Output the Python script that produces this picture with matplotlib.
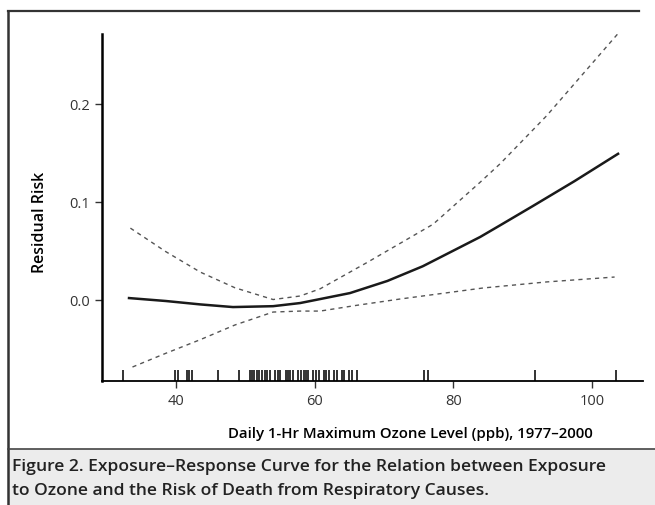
import matplotlib.pyplot as plt
from matplotlib.lines import Line2D
from matplotlib.patches import Rectangle

# ----- datos -------------------------------------------------------------------
OZONO = [33.2, 38.5, 43.5, 48.2, 54.0, 57.9, 60.8, 65.1, 70.5, 75.6, 83.9,
         86.8, 91.5, 97.5, 103.8]
RIESGO = [0.0015, -0.0015, -0.005, -0.0077, -0.0068, -0.0036, 0.0005, 0.0066,
          0.019, 0.034, 0.064, 0.076, 0.0956, 0.121, 0.149]

OZONO_SUP = [33.4, 38.5, 43.5, 48.5, 54.0, 57.9, 60.8, 67.6, 77.1, 83.9, 86.8,
             93.5, 103.8]
RIESGO_SUP = [0.073, 0.049, 0.028, 0.012, 0.0, 0.0036, 0.011, 0.038, 0.077,
              0.12, 0.139, 0.188, 0.272]

OZONO_INF = [33.7, 38.5, 43.5, 48.5, 54.0, 57.9, 60.8, 66.0, 72.3, 84.3, 93.5,
             103.3]
RIESGO_INF = [-0.069, -0.055, -0.041, -0.026, -0.0128, -0.0118, -0.0118,
              -0.006, 0.0005, 0.0118, 0.018, 0.023]

# días observados (marcas de alfombra)
RUG = [32.4, 39.9, 40.2, 41.6, 41.9, 42.3, 46.0, 49.1,
       50.6, 51.0, 51.3, 51.7, 52.0, 52.4, 52.8, 53.1, 53.5, 54.3, 54.7,
       55.0, 55.8, 56.2, 56.5, 56.9, 57.6, 58.0, 58.4, 58.7, 59.1, 59.8,
       60.2, 60.6, 61.3, 61.7, 62.1, 62.8, 63.2, 63.9, 64.3, 65.0, 65.4,
       66.1, 75.8, 76.4, 91.8, 103.5]

XTICKS = [40, 60, 80, 100]
YTICKS = [0.0, 0.1, 0.2]
YTICKLABELS = ["0.0", "0.1", "0.2"]
# -------------------------------------------------------------------------------

plt.rcParams["font.family"] = ["Open Sans", "DejaVu Sans"]

W, H = 655, 506
fig = plt.figure(figsize=(W / 100, H / 100), dpi=100)

# marco de la figura y fondo de la leyenda
fig.patches.append(Rectangle((8 / W, 0), 1 - 8 / W, 1 - 450 / H,
                             transform=fig.transFigure, facecolor="#ececec",
                             edgecolor="none", zorder=0))
fig.lines.append(Line2D([8 / W, 8 / W], [0, 1 - 12 / H], transform=fig.transFigure,
                        color="#333333", lw=1.8))
fig.lines.append(Line2D([8 / W, 0.975], [1 - 12 / H, 1 - 12 / H],
                        transform=fig.transFigure, color="#333333", lw=1.6))
fig.lines.append(Line2D([8 / W, 1], [1 - 450 / H, 1 - 450 / H],
                        transform=fig.transFigure, color="#444444", lw=1.2))

ax = fig.add_axes([102 / W, 1 - 382 / H, (643 - 102) / W, (382 - 35) / H])

ax.plot(OZONO, RIESGO, color="#1a1a1a", lw=1.8)
ax.plot(OZONO_SUP, RIESGO_SUP, color="#555555", lw=1.0, ls=(0, (3, 3)))
ax.plot(OZONO_INF, RIESGO_INF, color="#555555", lw=1.0, ls=(0, (3, 3)))

ax.vlines(RUG, 0, 0.032, transform=ax.get_xaxis_transform(), color="#111111", lw=1.2)

ax.set_xlim(29.3, 107.4)
ax.set_ylim(-0.0833, 0.2715)
ax.set_xticks(XTICKS)
ax.set_yticks(YTICKS)
ax.set_yticklabels(YTICKLABELS)

for s in ["top", "right"]:
    ax.spines[s].set_visible(False)
ax.spines["left"].set_linewidth(1.8)
ax.spines["bottom"].set_linewidth(1.3)
ax.tick_params(axis="both", length=5, width=1.0, labelsize=10.5, colors="#333333")

ax.set_ylabel("Residual Risk", fontsize=11.5, fontweight="semibold")
ax.yaxis.set_label_coords(-0.1, 0.46)
ax.set_xlabel("Daily 1-Hr Maximum Ozone Level (ppb), 1977\u20132000",
              fontsize=10.8, fontweight="semibold")
ax.xaxis.set_label_coords(0.57, -0.13)

fig.text(12 / W, 1 - 467 / H,
         "Figure 2. Exposure\u2013Response Curve for the Relation between Exposure",
         fontsize=12.6, fontweight="semibold", color="#222222", va="center")
fig.text(12 / W, 1 - 491 / H,
         "to Ozone and the Risk of Death from Respiratory Causes.",
         fontsize=12.6, fontweight="semibold", color="#222222", va="center")

fig.savefig("out.png", dpi=100)
